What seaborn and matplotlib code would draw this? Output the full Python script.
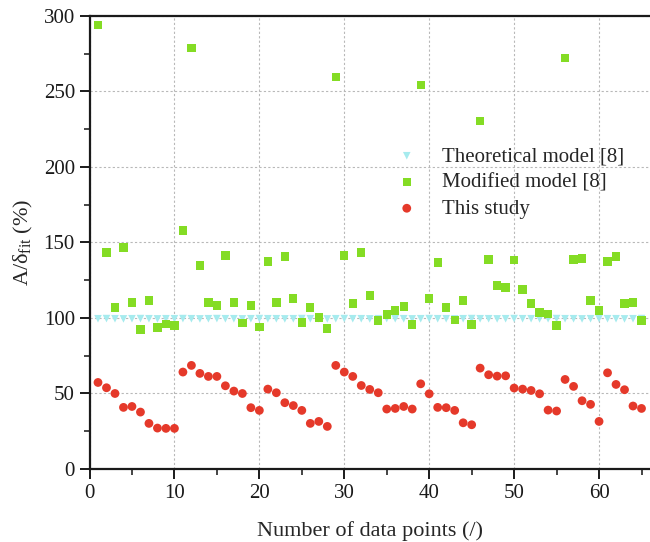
import matplotlib
matplotlib.use("Agg")
import matplotlib.pyplot as plt
from matplotlib.ticker import MultipleLocator
import seaborn as sns
import numpy as np

# data
idx = list(range(1, 66))

theoretical = [99.5, 99.6, 99.5, 99.4, 99.5, 99.6, 99.5, 99.4, 99.5, 99.5,
               99.6, 99.5, 99.4, 99.5, 99.6, 99.5, 99.5, 99.4, 99.5, 99.6,
               99.5, 99.5, 99.4, 99.5, 99.6, 99.5, 99.5, 99.4, 99.5, 99.6,
               99.5, 99.5, 99.4, 99.5, 99.6, 99.5, 99.5, 99.4, 99.5, 99.6,
               99.5, 99.5, 99.4, 99.5, 99.6, 99.5, 99.5, 99.4, 99.5, 99.6,
               99.5, 99.5, 99.4, 99.5, 99.6, 99.5, 99.5, 99.4, 99.5, 99.6,
               99.5, 99.5, 99.4, 99.5, 99.6]

modified = [294.1, 143.3, 106.9, 146.6, 110.2, 92.4, 111.6, 93.7, 96.1, 95.0,
            157.9, 278.9, 134.7, 110.2, 108.3, 141.3, 110.2, 96.6, 108.3, 94.1,
            137.4, 110.2, 140.7, 112.9, 97.0, 106.9, 100.3, 93.0, 259.7, 141.3,
            109.6, 143.3, 114.9, 98.3, 102.3, 105.0, 107.6, 95.7, 254.4, 112.9,
            136.7, 106.9, 98.5, 111.6, 95.7, 230.6, 138.7, 121.5, 120.2, 138.5,
            118.8, 109.6, 103.6, 102.5, 95.0, 272.3, 138.7, 139.3, 111.6, 105.0,
            137.4, 140.7, 109.6, 110.2, 98.3]

this_study = [57.3, 53.8, 50.0, 40.8, 41.4, 37.7, 30.2, 27.1, 26.9, 26.9,
              64.2, 68.6, 63.3, 61.3, 61.3, 55.1, 51.6, 50.0, 40.6, 38.8,
              52.9, 50.5, 43.9, 42.0, 38.8, 30.2, 31.5, 28.2, 68.6, 64.2,
              61.3, 55.3, 52.7, 50.5, 39.7, 40.1, 41.4, 39.7, 56.4, 49.8,
              40.8, 40.6, 38.8, 30.6, 29.3, 66.8, 62.4, 61.5, 61.7, 53.6,
              52.9, 52.0, 49.8, 39.0, 38.4, 59.3, 54.7, 45.2, 42.8, 31.5,
              63.7, 56.0, 52.5, 41.7, 40.1]

sns.set_style("ticks")
plt.rcParams['font.family'] = ['Liberation Serif', 'DejaVu Serif']
plt.rcParams['mathtext.fontset'] = 'custom'
plt.rcParams['mathtext.rm'] = 'Liberation Serif'
plt.rcParams['mathtext.it'] = 'Liberation Serif:italic'

fig = plt.figure(figsize=(6.5, 5.42), dpi=100)
ax = fig.add_axes([0.1377, 0.1347, 0.8623, 0.8358])

ax.grid(True, which='major', linestyle=(0, (2, 2)), color='#b8b8b8', linewidth=0.8)
ax.set_axisbelow(True)

sns.scatterplot(x=idx, y=theoretical, ax=ax, marker='v', color='#a6ebee', s=30,
                edgecolor='none', label='Theoretical model [8]', zorder=3)
sns.scatterplot(x=idx, y=modified, ax=ax, marker='s', color='#84dc24', s=36,
                edgecolor='none', label='Modified model [8]', zorder=3)
sns.scatterplot(x=idx, y=this_study, ax=ax, marker='o', color='#e5392a', s=40,
                edgecolor='none', label='This study', zorder=3)

ax.set_xlim(0, 66)
ax.set_ylim(0, 300)
ax.xaxis.set_major_locator(MultipleLocator(10))
ax.xaxis.set_minor_locator(MultipleLocator(5))
ax.yaxis.set_major_locator(MultipleLocator(50))
ax.yaxis.set_minor_locator(MultipleLocator(25))
ax.tick_params(which='major', direction='out', length=7, width=1.4, labelsize=15, colors='#1a1a1a')
ax.tick_params(which='minor', direction='out', length=4, width=1.2)

for s in ['left', 'bottom', 'top']:
    ax.spines[s].set_linewidth(1.6)
    ax.spines[s].set_color('#1a1a1a')
ax.spines['right'].set_visible(False)

ax.set_xlabel('Number of data points (/)', fontsize=16, labelpad=13)
ax.set_ylabel('A/δ$_{\\rm fit}$ (%)', fontsize=16, labelpad=6)

leg = ax.legend(loc='upper left', bbox_to_anchor=(0.514, 0.73), frameon=False,
                fontsize=15, handletextpad=0.7, labelspacing=0.32, borderaxespad=0)

fig.savefig('out.png', dpi=100)
